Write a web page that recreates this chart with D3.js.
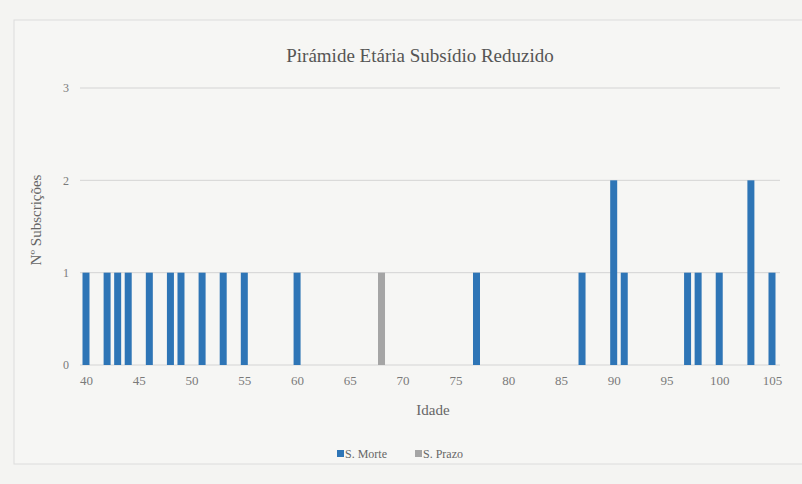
<!DOCTYPE html>
<html>
<head>
<meta charset="utf-8">
<script src="https://cdn.jsdelivr.net/npm/d3@7"></script>
<style>
  body { margin: 0; background: #f4f4f2; }
  svg { font-family: "Liberation Serif", "DejaVu Serif", serif; }
</style>
</head>
<body>
<div id="chart"></div>
<script>
// Data
const mortAges = [40, 42, 43, 44, 46, 48, 49, 51, 53, 55, 60, 77, 87, 90, 91, 97, 98, 100, 103, 105];
const mortValues = [1, 1, 1, 1, 1, 1, 1, 1, 1, 1, 1, 1, 1, 2, 1, 1, 1, 1, 2, 1];
const prazoAges = [68];
const prazoValues = [1];
const xTicks = [40, 45, 50, 55, 60, 65, 70, 75, 80, 85, 90, 95, 100, 105];
const yTicks = [0, 1, 2, 3];
const seriesNames = ['S. Morte', 'S. Prazo'];
const colors = ['#2e75b6', '#a5a5a5'];

const width = 802;
const height = 484;
const margin = { top: 88, right: 30, bottom: 119, left: 86 };

const svg = d3.select('#chart')
  .append('svg')
  .attr('width', width)
  .attr('height', height);

// chart frame
svg.append('rect')
  .attr('x', 14).attr('y', 20)
  .attr('width', 800).attr('height', 444)
  .attr('fill', '#f6f6f4')
  .attr('stroke', '#dcdcdc');

const x = d3.scaleLinear()
  .domain([40, 105])
  .range([margin.left, 772]);

const y = d3.scaleLinear()
  .domain([0, 3])
  .range([height - margin.bottom, margin.top]);

// gridlines
svg.append('g')
  .selectAll('line')
  .data(yTicks)
  .enter()
  .append('line')
  .attr('x1', 80)
  .attr('x2', 780)
  .attr('y1', d => y(d))
  .attr('y2', d => y(d))
  .attr('stroke', '#d4d4d4')
  .attr('stroke-width', 1);

// y axis labels
const yAxis = svg.append('g')
  .attr('transform', `translate(72,0)`)
  .call(d3.axisLeft(y).tickValues(yTicks).tickFormat(d3.format('d')).tickSize(0))
  .attr('font-family', '"Liberation Serif", serif')
  .attr('font-size', 12);
yAxis.select('.domain').remove();
yAxis.selectAll('text').attr('fill', '#7a7a7a');

// x axis labels
const xAxis = svg.append('g')
  .attr('transform', `translate(0, ${y(0) + 8})`)
  .call(d3.axisBottom(x).tickValues(xTicks).tickSize(0))
  .attr('font-family', '"Liberation Serif", serif')
  .attr('font-size', 13);
xAxis.select('.domain').remove();
xAxis.selectAll('text').attr('fill', '#7a7a7a');

const barW = 7;

svg.append('g')
  .selectAll('rect')
  .data(mortAges.map((a, i) => ({ age: a, v: mortValues[i] })))
  .enter()
  .append('rect')
  .attr('x', d => x(d.age) - barW / 2)
  .attr('y', d => y(d.v))
  .attr('width', barW)
  .attr('height', d => y(0) - y(d.v))
  .attr('fill', colors[0]);

svg.append('g')
  .selectAll('rect')
  .data(prazoAges.map((a, i) => ({ age: a, v: prazoValues[i] })))
  .enter()
  .append('rect')
  .attr('x', d => x(d.age) - barW / 2)
  .attr('y', d => y(d.v))
  .attr('width', barW)
  .attr('height', d => y(0) - y(d.v))
  .attr('fill', colors[1]);

// title
svg.append('text')
  .attr('x', 420)
  .attr('y', 62)
  .attr('text-anchor', 'middle')
  .attr('fill', '#555')
  .style('font-size', '19px')
  .text('Pirámide Etária Subsídio Reduzido');

// axis titles
svg.append('text')
  .attr('x', 433)
  .attr('y', 415)
  .attr('text-anchor', 'middle')
  .attr('fill', '#666')
  .style('font-size', '15px')
  .text('Idade');

svg.append('text')
  .attr('transform', 'translate(41, 220) rotate(-90)')
  .attr('text-anchor', 'middle')
  .attr('fill', '#666')
  .style('font-size', '15px')
  .text('Nº Subscrições');

// legend
const legend = svg.append('g').attr('transform', 'translate(337, 458)');
const legendX = [0, 78];
seriesNames.forEach((name, i) => {
  legend.append('rect')
    .attr('x', legendX[i]).attr('y', -8)
    .attr('width', 7).attr('height', 7)
    .attr('fill', colors[i]);
  legend.append('text')
    .attr('x', legendX[i] + 8).attr('y', 0)
    .attr('fill', '#666')
    .style('font-size', '12px')
    .text(name);
});
</script>
</body>
</html>
